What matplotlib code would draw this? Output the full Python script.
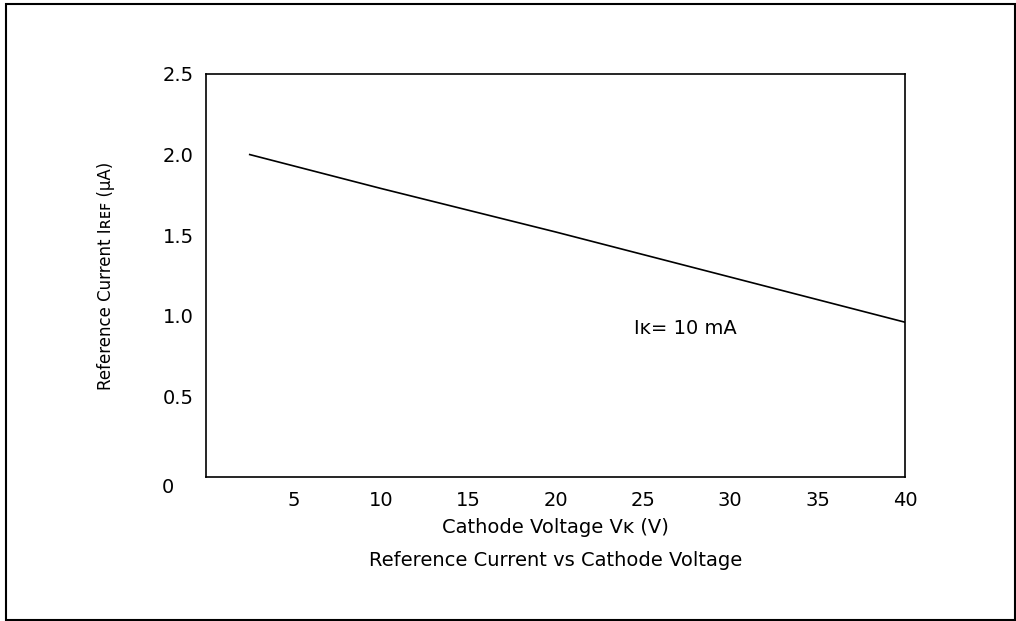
import matplotlib.pyplot as plt
from matplotlib.patches import Rectangle

plt.rcParams['font.family'] = ['DejaVu Sans']

# Data (straight line, Ik = 10 mA)
cathode_voltage = [2.5, 10, 20, 30, 40]
ref_current = [2.0, 1.79, 1.52, 1.24, 0.96]

x_ticks = [5, 10, 15, 20, 25, 30, 35, 40]
y_ticks = [0.5, 1.0, 1.5, 2.0, 2.5]

fig = plt.figure(figsize=(10.16, 6.21), dpi=100)
ax = fig.add_axes([0.2028, 0.2319, 0.688, 0.649])

ax.plot(cathode_voltage, ref_current, color='black', linewidth=1.2)

ax.set_xlim(0, 40)
ax.set_ylim(0, 2.5)
ax.set_xticks(x_ticks)
ax.set_yticks(y_ticks)
ax.set_yticklabels([f'{v:.1f}' for v in y_ticks])
ax.tick_params(length=0, labelsize=14, pad=10)
ax.tick_params(axis='y', pad=9)
for s in ax.spines.values():
    s.set_linewidth(1.2)

# shared origin label
ax.text(-2.2, -0.068, '0', ha='center', va='center', fontsize=14)

ax.text(24.5, 0.92, 'I\u1d0b= 10 mA', fontsize=14, va='center', ha='left')

ax.set_xlabel('Cathode Voltage V\u1d0b (V)', fontsize=14, labelpad=6)
ax.set_ylabel('Reference Current I\u0280\u1d07\ua730 (\u00b5A)', fontsize=12, labelpad=34)
fig.text(0.5465, 0.097, 'Reference Current vs Cathode Voltage',
         ha='center', va='center', fontsize=14)

# outer frame
fig.patches.append(Rectangle((0.006, 0.002), 0.993, 0.991, transform=fig.transFigure,
                             fill=False, edgecolor='black', linewidth=1.5))

fig.savefig('out.png', dpi=100)
